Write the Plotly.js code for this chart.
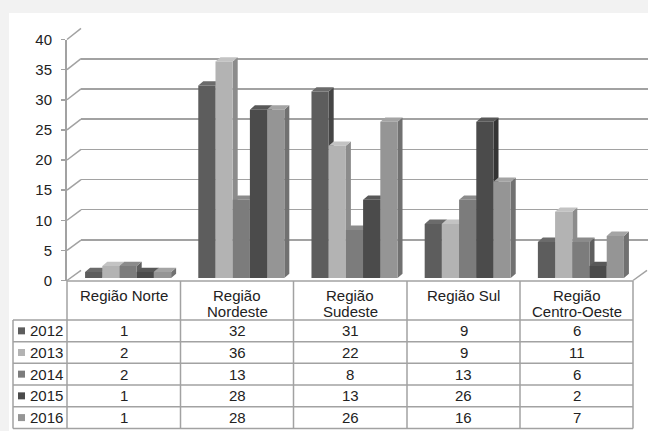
<!DOCTYPE html>
<html>
<head>
<meta charset="utf-8">
<script src="https://cdn.plot.ly/plotly-3.0.1.min.js"></script>
<style>html,body{margin:0;padding:0;background:#f2f2f2;}#chart{width:648px;height:431px;}</style>
</head>
<body>
<div id="chart"></div>
<script>
// ---- data ----
const regions = ['Região Norte', 'Região Nordeste', 'Região Sudeste', 'Região Sul', 'Região Centro-Oeste'];
const headerLines = [['Região Norte'], ['Região', 'Nordeste'], ['Região', 'Sudeste'], ['Região Sul'], ['Região', 'Centro-Oeste']];
const years = ['2012', '2013', '2014', '2015', '2016'];
const v2012 = [1, 32, 31, 9, 6];
const v2013 = [2, 36, 22, 9, 11];
const v2014 = [2, 13, 8, 13, 6];
const v2015 = [1, 28, 13, 26, 2];
const v2016 = [1, 28, 26, 16, 7];
const series = [v2012, v2013, v2014, v2015, v2016];
const yTicks = [0, 5, 10, 15, 20, 25, 30, 35, 40];

// ---- styles ----
const W = 648, H = 431;
const frontCol = ['#5d5d5d', '#b3b3b3', '#7c7c7c', '#4b4b4b', '#959595'];
const sideCol  = ['#454545', '#8c8c8c', '#5f5f5f', '#343434', '#717171'];
const topCol   = ['#6b6b6b', '#c3c3c3', '#8b8b8b', '#585858', '#a4a4a4'];
const gridCol = '#a2a2a2';
const txtCol = '#222222';
const FONT = 'Liberation Sans, Arial, sans-serif';
const FS = 15;

const px = x => x / W;
const py = y => 1 - y / H;

// geometry (pixels)
const frontL = 67, frontR = 633;        // front plane / table
const frontY0 = 280.5, frontY40 = 39.5; // front axis
const backL = 81, backY0 = 270.3, backY40 = 28.3;
const barL = 71.5, barR = 637.5, barY0 = 278, barY40 = 37.5;
const colX = [13, 67, 180.5, 293.5, 407, 520, 633];
const rowY = [281, 320, 341.7, 363.3, 385, 406.7, 428.5];

const unitPx = (barR - barL) / 5;
const barYPerUnit = (barY0 - barY40) / 40;
const groupW = 0.76, bw = groupW / 5;
const dxU = 5 / unitPx, dyU = 4.3 / barYPerUnit;

const traces = [];
// back wall subplot (gridlines only)
traces.push({type: 'scatter', x: [], y: [], xaxis: 'x', yaxis: 'y', hoverinfo: 'skip', showlegend: false});

// 3D side and top faces (below the fronts)
series.forEach((vals, i) => {
  const sx = [], sy = [], tx = [], ty = [];
  vals.forEach((v, k) => {
    const L = k - groupW / 2 + i * bw, R = L + bw;
    sx.push(R, R + dxU, R + dxU, R, R, null);
    sy.push(0, dyU, v + dyU, v, 0, null);
    tx.push(L, R, R + dxU, L + dxU, L, null);
    ty.push(v, v, v + dyU, v + dyU, v, null);
  });
  traces.push({type: 'scatter', mode: 'lines', x: sx, y: sy, xaxis: 'x2', yaxis: 'y2',
    fill: 'toself', fillcolor: sideCol[i], line: {width: 0, color: sideCol[i]},
    hoverinfo: 'skip', showlegend: false});
  traces.push({type: 'scatter', mode: 'lines', x: tx, y: ty, xaxis: 'x2', yaxis: 'y2',
    fill: 'toself', fillcolor: topCol[i], line: {width: 0, color: topCol[i]},
    hoverinfo: 'skip', showlegend: false});
});

// front faces as real bars
series.forEach((vals, i) => {
  traces.push({type: 'bar', name: years[i], x: regions.map((_, k) => k), y: vals,
    xaxis: 'x3', yaxis: 'y3', width: bw, offset: -groupW / 2 + i * bw,
    marker: {color: frontCol[i], line: {width: 0}}, showlegend: false, hoverinfo: 'skip'});
});

// front axis subplot
traces.push({type: 'scatter', x: [], y: [], xaxis: 'x4', yaxis: 'y4', hoverinfo: 'skip', showlegend: false});

const shapes = [];
// white chart area
shapes.push({type: 'rect', xref: 'paper', yref: 'paper', x0: px(9), x1: 1, y0: 0, y1: py(13),
  fillcolor: '#ffffff', line: {width: 0}, layer: 'below'});
// left wall diagonals
const fy = v => frontY0 - v * (frontY0 - frontY40) / 40;
const by = v => backY0 - v * (backY0 - backY40) / 40;
yTicks.forEach(v => {
  shapes.push({type: 'line', xref: 'paper', yref: 'paper', x0: px(frontL), y0: py(fy(v)), x1: px(backL), y1: py(by(v)),
    line: {color: gridCol, width: 1.5}});
});
// floor right diagonal
shapes.push({type: 'line', xref: 'paper', yref: 'paper', x0: px(frontR), y0: py(frontY0), x1: px(frontR + 14), y1: py(backY0),
  line: {color: gridCol, width: 1.5}});
// table lines
const tl = (x0, y0, x1, y1) => shapes.push({type: 'line', xref: 'paper', yref: 'paper',
  x0: px(x0), y0: py(y0), x1: px(x1), y1: py(y1), line: {color: gridCol, width: 1.5}});
tl(colX[1], rowY[0], colX[6], rowY[0]);
for (let r = 1; r < rowY.length; r++) tl(colX[0], rowY[r], colX[6], rowY[r]);
tl(colX[0], rowY[1], colX[0], rowY[6]);
for (let c = 1; c < colX.length; c++) tl(colX[c], rowY[0], colX[c], rowY[6]);

const annotations = [];
const ann = (text, x, y, xanchor) => annotations.push({text: text, xref: 'paper', yref: 'paper',
  x: px(x), y: py(y), xanchor: xanchor || 'center', yanchor: 'middle', showarrow: false,
  font: {family: FONT, size: FS, color: txtCol}});
// header
headerLines.forEach((lines, k) => {
  const cx = (colX[k + 1] + colX[k + 2]) / 2;
  lines.forEach((ln, j) => ann(ln, cx, 295 + j * 16.7));
});
// rows
series.forEach((vals, i) => {
  const cy = (rowY[i + 1] + rowY[i + 2]) / 2;
  shapes.push({type: 'rect', xref: 'paper', yref: 'paper', x0: px(18), x1: px(25), y0: py(cy + 3.5), y1: py(cy - 3.5),
    fillcolor: frontCol[i], line: {width: 0}});
  ann(years[i], 27.5, cy, 'left');
  vals.forEach((v, k) => ann(String(v), (colX[k + 1] + colX[k + 2]) / 2, cy));
});

const layout = {
  width: W, height: H, autosize: false,
  margin: {l: 0, r: 0, t: 0, b: 0, pad: 0},
  paper_bgcolor: '#f2f2f2', plot_bgcolor: 'rgba(0,0,0,0)',
  showlegend: false,
  font: {family: FONT, size: FS, color: txtCol},
  xaxis: {domain: [px(backL), 1], range: [0, 1], visible: false, fixedrange: true, anchor: 'y'},
  yaxis: {domain: [py(backY0), py(backY40)], range: [-0.05, 40.05], anchor: 'x', tickvals: yTicks,
    showgrid: true, gridcolor: gridCol, gridwidth: 1.5, showticklabels: false, ticks: '',
    zeroline: false, showline: false, fixedrange: true},
  xaxis2: {domain: [px(barL), px(barR)], range: [-0.5, 4.5], visible: false, anchor: 'y2', fixedrange: true},
  yaxis2: {domain: [py(barY0), py(barY40)], range: [0, 40], visible: false, anchor: 'x2', fixedrange: true},
  xaxis3: {overlaying: 'x2', range: [-0.5, 4.5], visible: false, anchor: 'y3', fixedrange: true},
  yaxis3: {overlaying: 'y2', range: [0, 40], visible: false, anchor: 'x3', fixedrange: true},
  xaxis4: {domain: [px(frontL - 0.5), px(frontL + 1)], range: [0, 1], visible: false, anchor: 'y4', fixedrange: true},
  yaxis4: {domain: [py(frontY0), py(frontY40)], range: [0, 40], anchor: 'x4', side: 'left',
    tickvals: yTicks, ticktext: yTicks.map(String), showgrid: false, zeroline: false,
    showline: true, linecolor: gridCol, linewidth: 1.5, ticks: 'outside', ticklen: 4,
    tickcolor: gridCol, tickwidth: 1.5, ticklabelstandoff: 6,
    tickfont: {family: FONT, size: FS, color: txtCol}, fixedrange: true},
  bargap: 0.24, bargroupgap: 0,
  shapes: shapes,
  annotations: annotations
};

Plotly.newPlot('chart', traces, layout, {displayModeBar: false, staticPlot: true});
</script>
</body>
</html>
